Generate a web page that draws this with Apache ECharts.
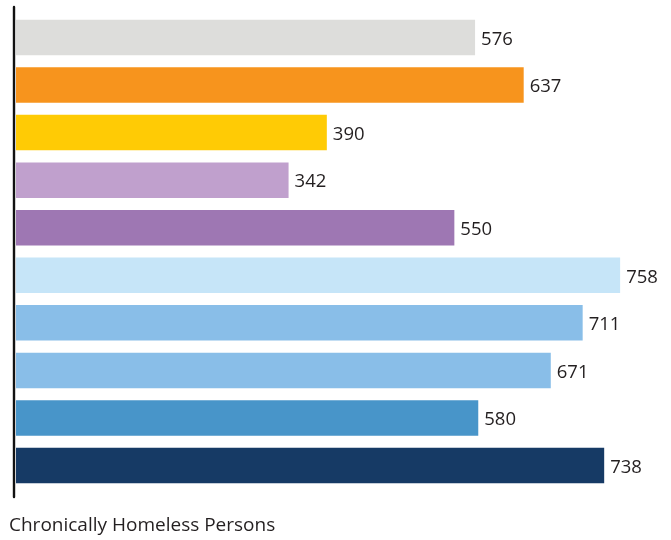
<!DOCTYPE html>
<html>
<head>
<meta charset="utf-8">
<script src="https://cdn.jsdelivr.net/npm/echarts@6/dist/echarts.min.js"></script>
<style>
  html, body { margin: 0; padding: 0; background: #ffffff; }
  #chart { width: 671px; height: 540px; }
</style>
</head>
<body>
<div id="chart"></div>
<script>
// Bars listed top to bottom
const categories = ['A', 'B', 'C', 'D', 'E', 'F', 'G', 'H', 'I', 'J'];
const values = [576, 637, 390, 342, 550, 758, 711, 671, 580, 738];
const barColors = ['#DDDDDB', '#F7941D', '#FFCB05', '#C0A0CD', '#9E77B3',
                   '#C6E5F8', '#89BEE8', '#89BEE8', '#4895C9', '#163A65'];
const axisTitle = 'Chronically Homeless Persons';

const chart = echarts.init(document.getElementById('chart'), null, { renderer: 'canvas' });

const fontFamily = '"Open Sans", "Noto Sans", sans-serif';

chart.setOption({
  animation: false,
  grid: [
    { left: 16, right: 17.4, top: 13.7, bottom: 540 - 489.3, containLabel: false },
    { left: 14.2, width: 1, top: 7, bottom: 540 - 497, containLabel: false }
  ],
  xAxis: [
    { type: 'value', gridIndex: 0, min: 0, max: 800, show: false },
    { type: 'value', gridIndex: 1, show: false }
  ],
  yAxis: [
    {
      type: 'category', gridIndex: 0, inverse: true, data: categories,
      axisLine: { show: false }, axisTick: { show: false }, axisLabel: { show: false }
    },
    {
      type: 'category', gridIndex: 1, data: [''],
      axisLine: { show: true, lineStyle: { color: '#111111', width: 2.4 } },
      axisTick: { show: false }, axisLabel: { show: false }
    }
  ],
  series: [{
    type: 'bar',
    xAxisIndex: 0,
    yAxisIndex: 0,
    barWidth: 35.5,
    data: values.map((v, i) => ({ value: v, itemStyle: { color: barColors[i] } })),
    label: {
      show: true,
      position: 'right',
      distance: 6,
      offset: [0, 2],
      color: '#231f20',
      fontFamily: fontFamily,
      fontSize: 18.5
    }
  }],
  graphic: [{
    type: 'text',
    left: 9,
    top: 516,
    style: {
      text: axisTitle,
      fill: '#231f20',
      font: '19px ' + fontFamily
    }
  }]
});
</script>
</body>
</html>
